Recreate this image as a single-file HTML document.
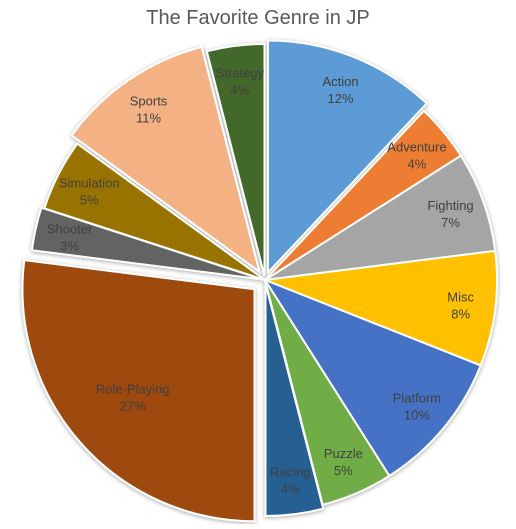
<!DOCTYPE html>
<html><head><meta charset="utf-8"><style>
body{margin:0;background:#fff;font-family:"Liberation Sans",sans-serif}
</style></head><body>
<svg id="chart" width="516" height="524">
<defs><filter id="sh" x="-10%" y="-10%" width="120%" height="120%"><feDropShadow dx="0" dy="1" stdDeviation="2" flood-color="#000" flood-opacity="0.35"/></filter></defs>
<text x="258" y="24" text-anchor="middle" font-size="20" fill="#595959">The Favorite Genre in JP</text>
<g id="slices" filter="url(#sh)"></g>
<g id="labels"></g>
</svg>
<script>
const categories=["Action","Adventure","Fighting","Misc","Platform","Puzzle","Racing","Role-Playing","Shooter","Simulation","Sports","Strategy"];
const values=[12,4,7,8,10,5,4,27,3,5,11,4];
const colors=["#5b9bd5","#ed7d31","#a5a5a5","#ffc000","#4472c4","#70ad47","#255e91","#9e480e","#636363","#997300","#f4b183","#43682b"];
const explode=[8,0,0,0,0,0,4,14,3,0,10,4];
const cx=265,cy=280,R=232;
const ns="http://www.w3.org/2000/svg";
const total=values.reduce((a,b)=>a+b,0);
let a0=0;
const gS=document.getElementById('slices'),gL=document.getElementById('labels');
values.forEach((v,i)=>{
  const a1=a0+v/total*2*Math.PI, m=(a0+a1)/2;
  const ox=cx+explode[i]*Math.sin(m), oy=cy-explode[i]*Math.cos(m);
  const p=a=>[ox+R*Math.sin(a),oy-R*Math.cos(a)];
  const [x0,y0]=p(a0),[x1,y1]=p(a1);
  const path=document.createElementNS(ns,'path');
  path.setAttribute('d',`M${ox},${oy}L${x0},${y0}A${R},${R} 0 ${a1-a0>Math.PI?1:0} 1 ${x1},${y1}Z`);
  path.setAttribute('fill',colors[i]);path.setAttribute('stroke','#fff');path.setAttribute('stroke-width','2');
  
  
  gS.appendChild(path);
  const lr=R*(v>20?0.7:0.85), lx=ox+lr*Math.sin(m), ly=oy-lr*Math.cos(m);
  const t=document.createElementNS(ns,'text');
  t.setAttribute('x',lx);t.setAttribute('y',ly-3);t.setAttribute('text-anchor','middle');
  t.setAttribute('font-size','13');t.setAttribute('fill','#404040');
  
  
  const s1=document.createElementNS(ns,'tspan');s1.setAttribute('x',lx);s1.textContent=categories[i];
  const s2=document.createElementNS(ns,'tspan');s2.setAttribute('x',lx);s2.setAttribute('dy','17');s2.textContent=v+'%';
  t.appendChild(s1);t.appendChild(s2);gL.appendChild(t);
  a0=a1;
});
</script>
</body></html>
